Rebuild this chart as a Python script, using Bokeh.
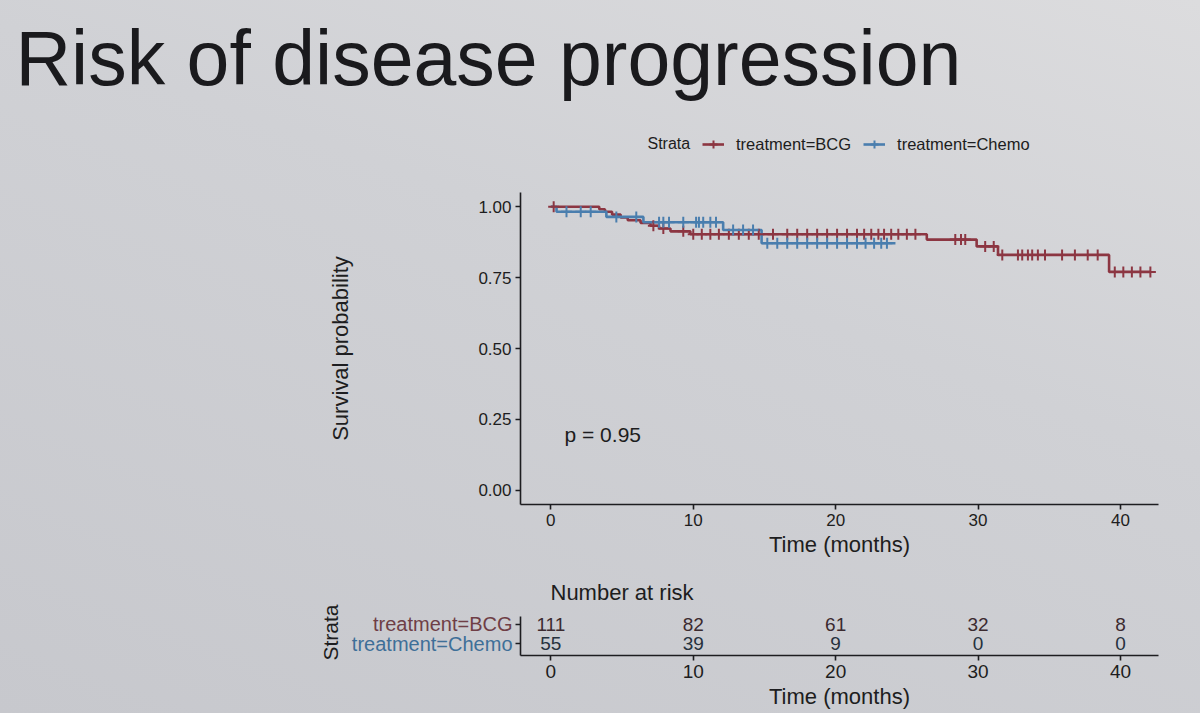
import numpy as np
from bokeh.plotting import figure
from bokeh.models import (Range1d, FixedTicker, NumeralTickFormatter, Label, Legend, LegendItem,
                          ColumnDataSource)
from bokeh.layouts import column, row
from bokeh.embed import file_html
from bokeh.resources import INLINE
from bokeh.core.properties import value

# ---------------- data ----------------
title_text = "Risk of disease progression"
strata = ["treatment=BCG", "treatment=Chemo"]

bcg_times = [0.0, 3.4, 3.8, 4.3, 4.9, 5.4, 6.3, 7.0, 7.6, 8.4, 9.8, 26.4, 29.9, 31.4, 39.2]
bcg_surv = [1.000, 0.991, 0.982, 0.972, 0.962, 0.952, 0.943, 0.933, 0.923, 0.913, 0.903, 0.884, 0.860, 0.830, 0.770]
bcg_end = 42.1
bcg_censor = [0.2, 7.2, 7.9, 9.3, 10.0, 10.6, 11.2, 11.8, 12.5, 13.2, 13.9, 14.6, 15.6, 16.6, 17.3,
              18.0, 18.7, 19.4, 20.1, 20.8, 21.5, 22.0, 22.5, 23.0, 23.4, 23.9, 24.4, 25.0, 25.6,
              28.4, 28.8, 29.1, 30.5, 31.1, 31.7, 32.8, 33.1, 33.5, 33.8, 34.2, 34.7, 35.9, 36.8,
              37.7, 38.4, 39.6, 40.2, 40.8, 41.4, 42.1]

chemo_times = [0.0, 0.4, 3.9, 6.5, 12.1, 14.8]
chemo_surv = [1.000, 0.982, 0.964, 0.945, 0.918, 0.871]
chemo_end = 24.2
chemo_censor = [1.1, 2.1, 2.8, 4.6, 6.0, 7.6, 7.9, 8.3, 9.3, 10.2, 10.4, 10.7, 11.2, 11.6, 12.8,
                13.5, 14.2, 15.2, 15.9, 16.6, 17.3, 18.0, 18.7, 19.4, 20.1, 20.8, 21.5, 22.1,
                22.7, 23.2, 23.6]

risk_times = [0, 10, 20, 30, 40]
risk_bcg = [111, 82, 61, 32, 8]
risk_chemo = [55, 39, 9, 0, 0]
row_pos = [2, 1]

y_ticks = [0.0, 0.25, 0.5, 0.75, 1.0]
x_ticks = [0, 10, 20, 30, 40]
pval_text = "p = 0.95"

# ---------------- style ----------------
PAGE_BG = "linear-gradient(200deg, #dcdcde 0%, #d0d1d5 40%, #c7c8cd 100%)"
INK = "#1d1d20"
RED = "#8c3642"
BLUE = "#4a7eae"
LAB_RED = "#6f3e46"
LAB_BLUE = "#3e6f98"
FONT = "Liberation Sans"


def surv_at(times, surv, t):
    idx = np.searchsorted(np.array(times), t, side="right") - 1
    return surv[max(idx, 0)]


def base_fig(**kw):
    f = figure(output_backend="svg", toolbar_location=None, **kw)
    f.background_fill_alpha = 0
    f.border_fill_alpha = 0
    f.outline_line_color = None
    f.frame_align = False
    f.styles = {"background-color": "transparent"}
    return f


def style_axes(p, label_size):
    for ax in (p.xaxis[0], p.yaxis[0]):
        ax.axis_line_color = INK
        ax.axis_line_width = 1.6
        ax.major_tick_line_color = INK
        ax.major_tick_line_width = 1.6
        ax.major_tick_out = 5
        ax.major_tick_in = 0
        ax.minor_tick_line_color = None
        ax.major_label_text_font = FONT
        ax.major_label_text_color = INK
        ax.major_label_text_font_size = label_size
        ax.axis_label_text_font = FONT
        ax.axis_label_text_color = INK
        ax.axis_label_text_font_style = "normal"


# ---------------- header (slide title + legend) ----------------
HH = 185
hdr = base_fig(width=1200, height=HH, x_range=Range1d(0, 1), y_range=Range1d(0, 1),
               x_axis_type=None, y_axis_type=None,
               min_border_left=0, min_border_right=0, min_border_top=0, min_border_bottom=0)
hdr.grid.visible = False
hdr.add_layout(Label(x=15, y=HH - 57, x_units="screen", y_units="screen", text=title_text,
                     text_align="left", text_baseline="alphabetic",
                     text_font=FONT, text_font_size="77px", text_color="#1a1a1d"))
hdr.add_layout(Label(x=647, y=HH - 143, x_units="screen", y_units="screen", text="Strata",
                     text_align="left", text_baseline="middle",
                     text_font=FONT, text_font_size="16px", text_color=INK))
# legend keys (off-canvas placeholder points; only their legend glyphs are seen)
k_bcg_l = hdr.line([-5, -4], [-5, -5], line_color=RED, line_width=2.6)
k_bcg_c = hdr.scatter([-5], [-5], marker="cross", size=11, line_color=RED, line_width=2)
k_che_l = hdr.line([-5, -4], [-5, -5], line_color=BLUE, line_width=2.6)
k_che_c = hdr.scatter([-5], [-5], marker="cross", size=11, line_color=BLUE, line_width=2)
legend = Legend(items=[LegendItem(label=strata[0], renderers=[k_bcg_l, k_bcg_c]),
                       LegendItem(label=strata[1], renderers=[k_che_l, k_che_c])],
                orientation="horizontal", location=(702, HH - 154))
legend.label_text_font = FONT
legend.label_text_font_size = "16.5px"
legend.label_text_color = INK
legend.glyph_width = 22
legend.glyph_height = 20
legend.label_standoff = 12
legend.spacing = 12
legend.padding = 0
legend.margin = 0
legend.border_line_color = None
legend.background_fill_alpha = 0
hdr.add_layout(legend, "center")

# ---------------- main KM plot ----------------
H1 = 380
p = base_fig(width=1200, height=H1, x_range=Range1d(-2.13, 42.67), y_range=Range1d(-0.05, 1.05),
             min_border_left=520, min_border_right=42, min_border_top=7, min_border_bottom=61)
p.grid.visible = False

p.step(bcg_times + [bcg_end], bcg_surv + [bcg_surv[-1]], mode="after",
       line_color=RED, line_width=2.6)
p.step(chemo_times + [chemo_end], chemo_surv + [chemo_surv[-1]], mode="after",
       line_color=BLUE, line_width=2.6)
p.scatter(bcg_censor, [surv_at(bcg_times, bcg_surv, t) for t in bcg_censor],
          marker="cross", size=11, line_color=RED, line_width=2)
p.scatter(chemo_censor, [surv_at(chemo_times, chemo_surv, t) for t in chemo_censor],
          marker="cross", size=11, line_color=BLUE, line_width=2)

p.xaxis.ticker = FixedTicker(ticks=x_ticks)
p.yaxis.ticker = FixedTicker(ticks=y_ticks)
p.yaxis.formatter = NumeralTickFormatter(format="0.00")
style_axes(p, "17px")
p.xaxis.axis_label = "Time (months)"
p.xaxis.axis_label_text_font_size = "22px"
p.xaxis.major_label_standoff = 4
p.xaxis.axis_label_standoff = 3
p.yaxis.major_label_standoff = 4
p.yaxis.axis_label = "Survival probability"
p.yaxis.axis_label_text_font_size = "22px"
p.yaxis.axis_label_standoff = 122

p.add_layout(Label(x=44, y=70, x_units="screen", y_units="screen", text=pval_text,
                   text_align="left", text_baseline="alphabetic",
                   text_font=FONT, text_font_size="21px", text_color=INK))

# ---------------- risk table ----------------
H2 = 713 - HH - H1
LW = 514

lft = base_fig(width=LW, height=H2, x_range=Range1d(0, 1), y_range=Range1d(-2.5, 4.9),
               x_axis_type=None, y_axis_type=None,
               min_border_left=0, min_border_right=0, min_border_top=0, min_border_bottom=0)
lft.grid.visible = False
lft.text(x=[1, 1], y=row_pos, text=strata, text_color=[LAB_RED, LAB_BLUE], text_align="right",
         text_baseline="middle", x_offset=-2, text_font=value(FONT), text_font_size="20px")
lft.add_layout(Label(x=330, y=H2 - 67, x_units="screen", y_units="screen", text="Strata",
                     angle=np.pi / 2, text_align="center", text_baseline="middle",
                     text_font=FONT, text_font_size="21px", text_color=INK))

t = base_fig(width=1200 - LW, height=H2, x_range=Range1d(-2.13, 42.67), y_range=Range1d(0.4, 2.4),
             min_border_left=6, min_border_right=42, min_border_top=50, min_border_bottom=58)
t.grid.visible = False

src = ColumnDataSource(dict(
    x=risk_times + risk_times,
    y=[row_pos[0]] * len(risk_times) + [row_pos[1]] * len(risk_times),
    txt=[str(v) for v in risk_bcg] + [str(v) for v in risk_chemo],
    col=["#3b2a2f"] * len(risk_times) + ["#26313d"] * len(risk_times),
))
t.text(x="x", y="y", text="txt", source=src, text_color="col", text_align="center",
       text_baseline="middle", text_font=value(FONT), text_font_size="19px")

t.xaxis.ticker = FixedTicker(ticks=x_ticks)
t.yaxis.ticker = FixedTicker(ticks=row_pos)
t.yaxis.major_label_overrides = {1: "", 2: ""}
style_axes(t, "19px")
t.yaxis.major_label_standoff = 0
t.xaxis.axis_label = "Time (months)"
t.xaxis.axis_label_text_font_size = "22px"
t.xaxis.major_label_standoff = 4
t.xaxis.axis_label_standoff = 3

t.title.text = "Number at risk"
t.title.align = "left"
t.title.offset = 30
t.title.standoff = 24
t.title.text_font = FONT
t.title.text_font_size = "22px"
t.title.text_font_style = "normal"
t.title.text_color = INK

layout = column(hdr, p, row(lft, t, spacing=0, styles={"background": "transparent"}),
                spacing=0, styles={"background": PAGE_BG})
open("out.html", "w").write(file_html(layout, INLINE))
